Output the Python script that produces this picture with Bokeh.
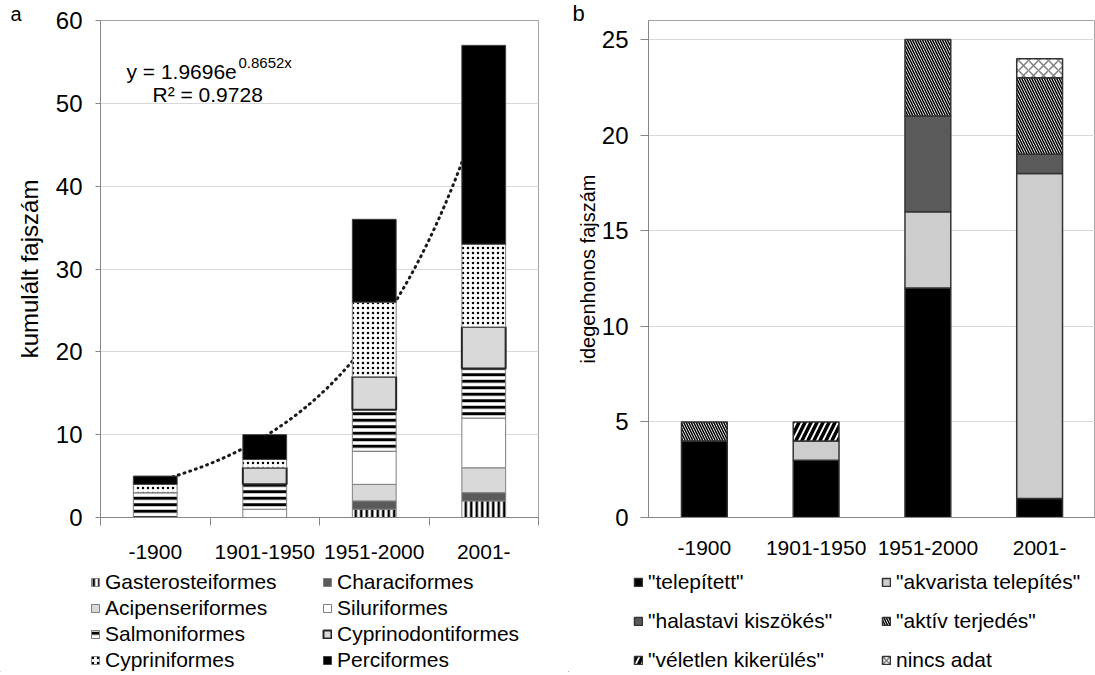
import numpy as np
from bokeh.plotting import figure
from bokeh.models import Range1d, FixedTicker, Legend, LegendItem, Label, ColumnDataSource
from bokeh.layouts import row, column
from bokeh.embed import file_html
from bokeh.resources import INLINE

FONT = "Liberation Sans"

periods = ["-1900", "1901-1950", "1951-2000", "2001-"]

# panel a: cumulative species number by order (stack order bottom -> top)
a_names = ["Gasterosteiformes", "Characiformes", "Acipenseriformes", "Siluriformes",
           "Salmoniformes", "Cyprinodontiformes", "Cypriniformes", "Perciformes"]
gasterosteiformes = [0, 0, 1, 2]
characiformes = [0, 0, 1, 1]
acipenseriformes = [0, 0, 2, 3]
siluriformes = [0, 1, 4, 6]
salmoniformes = [3, 3, 5, 6]
cyprinodontiformes = [0, 2, 4, 5]
cypriniformes = [1, 1, 9, 10]
perciformes = [1, 3, 10, 24]

# exponential trendline as drawn (coefficients)
trend_a = 1.9
trend_b = 0.82
eq_text = "y = 1.9696e"
eq_sup = "0.8652x"
r2_text = "R\u00b2 = 0.9728"

# panel b: alien species by introduction pathway
b_names = ['"telepített"', '"akvarista telepítés"', '"halastavi kiszökés"',
           '"aktív terjedés"', '"véletlen kikerülés"', 'nincs adat']
telepitett = [4, 3, 12, 1]
akvarista = [0, 1, 4, 17]
halastavi = [0, 0, 5, 1]
aktiv = [1, 0, 4, 4]
veletlen = [0, 1, 0, 0]
nincs_adat = [0, 0, 0, 1]

xs = np.arange(1, len(periods) + 1)

a_styles = [
    dict(fill_color="white", hatch_pattern="|", hatch_color="black", hatch_scale=5.5, hatch_weight=2.5, line_color="#7f7f7f", line_width=1),
    dict(fill_color="#5a5a5a", line_color="#7f7f7f", line_width=1),
    dict(fill_color="#d9d9d9", line_color="#7f7f7f", line_width=1),
    dict(fill_color="white", line_color="#7f7f7f", line_width=1),
    dict(fill_color="white", hatch_pattern="-", hatch_color="black", hatch_scale=6.5, hatch_weight=3, line_color="#7f7f7f", line_width=1),
    dict(fill_color="#d9d9d9", line_color="#262626", line_width=2),
    dict(fill_color="white", hatch_pattern=".", hatch_color="black", hatch_scale=5, hatch_weight=2.5, line_color="#7f7f7f", line_width=1),
    dict(fill_color="black", line_color="#404040", line_width=1),
]
b_styles = [
    dict(fill_color="black", line_color="#333333", line_width=1.5),
    dict(fill_color="#cdcdcd", line_color="#333333", line_width=1.5),
    dict(fill_color="#5a5a5a", line_color="#333333", line_width=1.5),
    dict(fill_color="white", hatch_pattern="\\", hatch_color="black", hatch_scale=5, hatch_weight=1.5, line_color="#333333", line_width=1.5),
    dict(fill_color="white", hatch_pattern="/", hatch_color="black", hatch_scale=12, hatch_weight=3.5, line_color="#333333", line_width=1.5),
    dict(fill_color="white", hatch_pattern="x", hatch_color="#7f7f7f", hatch_scale=10, hatch_weight=1.5, line_color="#333333", line_width=1.5),
]

H_MAIN = 570
H_LEG = 102


def make_fig(width, height, ymax, yticks, bl, br, bt, bb, tag, tag_offset, tag_size, tag_standoff):
    p = figure(width=width, height=height, x_range=Range1d(0.5, 4.5), y_range=Range1d(0, ymax),
               output_backend="svg", toolbar_location=None, tools="",
               min_border_left=bl, min_border_right=br, min_border_top=bt, min_border_bottom=bb)
    p.title.text = tag
    p.title.align = "left"
    p.title.offset = tag_offset
    p.title.text_font = FONT
    p.title.text_font_size = tag_size
    p.title.text_font_style = "normal"
    p.title.text_color = "black"
    p.title.standoff = tag_standoff
    p.xgrid.visible = False
    p.ygrid.grid_line_color = "#d9d9d9"
    p.ygrid.grid_line_width = 1
    p.outline_line_color = "#a6a6a6"
    p.background_fill_color = "white"
    p.border_fill_color = "white"
    p.yaxis.ticker = FixedTicker(ticks=yticks, minor_ticks=[])
    p.xaxis.ticker = FixedTicker(ticks=list(xs), minor_ticks=[x - 0.5 for x in xs] + [xs[-1] + 0.5])
    p.xaxis.major_label_overrides = {int(x): lab for x, lab in zip(xs, periods)}
    for ax in (p.xaxis, p.yaxis):
        ax.axis_line_color = "#868686"
        ax.major_tick_line_color = "#868686"
        ax.major_label_text_font = FONT
        ax.major_label_text_color = "black"
        ax.axis_label_text_font = FONT
        ax.axis_label_text_font_style = "normal"
        ax.axis_label_text_color = "black"
    p.xaxis.major_tick_out = 0
    p.xaxis.major_tick_in = 0
    p.yaxis.minor_tick_line_color = None
    p.yaxis.major_tick_in = 0
    return p


def stacked(p, series, styles, width):
    rends = []
    bottom = np.zeros(len(xs))
    for vals, st in zip(series, styles):
        vals = np.asarray(vals, dtype=float)
        top = bottom + vals
        keep = vals > 0
        src = ColumnDataSource(dict(x=xs[keep], bottom=bottom[keep], top=top[keep]))
        r = p.vbar(x="x", width=width, bottom="bottom", top="top", source=src, **st)
        rends.append(r)
        bottom = top
    return rends


def legend_fig(width, names, styles, columns, col_x, spacing):
    f = figure(width=width, height=H_LEG, x_range=Range1d(0, width), y_range=Range1d(0, H_LEG),
               output_backend="svg", toolbar_location=None, tools="",
               min_border=0, min_border_left=0, min_border_right=0, min_border_top=0, min_border_bottom=0,
               x_axis_type=None, y_axis_type=None)
    f.outline_line_color = None
    f.background_fill_color = "white"
    f.border_fill_color = "white"
    proxies = []
    for st in styles:
        # one off-screen proxy bar per series, used only for its legend swatch
        src = ColumnDataSource(dict(x=[-1000.0], bottom=[-1000.0], top=[-999.0]))
        proxies.append(f.vbar(x="x", width=1, bottom="bottom", top="top", source=src, **st))
    for idxs, cx in zip(columns, col_x):
        lg = Legend(items=[LegendItem(label=names[i], renderers=[proxies[i]]) for i in idxs],
                    location=(cx, 0), orientation="vertical", padding=0, margin=0,
                    spacing=spacing, border_line_color=None, background_fill_alpha=0,
                    glyph_width=10, glyph_height=10, label_standoff=5,
                    label_text_font=FONT, label_text_font_size="21px", label_text_color="black")
        f.add_layout(lg)
    return f


# ---------------- panel a ----------------
pa = make_fig(568, H_MAIN, 60, list(range(0, 61, 10)), 100, 30, 20, 53, "a", -90, "20px", -9)
pa.yaxis.axis_label = "kumulált fajszám"
pa.yaxis.axis_label_text_font_size = "24px"
pa.yaxis.axis_label_standoff = 10
pa.yaxis.major_label_text_font_size = "24px"
pa.yaxis.major_tick_out = 5
pa.yaxis.major_label_standoff = 13
pa.xaxis.major_label_text_font_size = "21px"
pa.xaxis.minor_tick_out = 8
pa.xaxis.minor_tick_in = 0
pa.xaxis.minor_tick_line_color = "#868686"
pa.xaxis.major_label_standoff = 19

xt = np.linspace(xs[0], xs[-1], 200)
pa.line(xt, trend_a * np.exp(trend_b * xt), line_color="#1a1a1a", line_width=3,
        line_dash="1 5", line_cap="round")

a_series = [gasterosteiformes, characiformes, acipenseriformes, siluriformes,
            salmoniformes, cyprinodontiformes, cypriniformes, perciformes]
stacked(pa, a_series, a_styles, 0.4)

pa.add_layout(Label(x=0.737, y=53.9, text=eq_text, text_font=FONT, text_font_size="21px",
                    text_baseline="alphabetic", text_color="black"))
pa.add_layout(Label(x=1.76, y=54.9, text=eq_sup, text_font=FONT, text_font_size="15px",
                    text_baseline="alphabetic", text_color="black"))
pa.add_layout(Label(x=0.975, y=51.1, text=r2_text, text_font=FONT, text_font_size="21px",
                    text_baseline="alphabetic", text_color="black"))

# ---------------- panel b ----------------
pb = make_fig(527, H_MAIN, 26, list(range(0, 26, 5)), 80, 0, 19, 51, "b", -76, "22px", -11)
pb.yaxis.axis_label = "idegenhonos fajszám"
pb.yaxis.axis_label_text_font_size = "20px"
pb.yaxis.axis_label_standoff = 0
pb.yaxis.major_label_text_font_size = "24px"
pb.yaxis.major_tick_out = 8
pb.yaxis.major_label_standoff = 12
pb.xaxis.major_label_text_font_size = "21px"
pb.xaxis.minor_tick_line_color = None
pb.xaxis.major_label_standoff = 19

b_series = [telepitett, akvarista, halastavi, aktiv, veletlen, nincs_adat]
stacked(pb, b_series, b_styles, 0.41)

la = legend_fig(568, a_names, a_styles, [[0, 2, 4, 6], [1, 3, 5, 7]], [90, 322], 2)
lb = legend_fig(527, b_names, b_styles, [[0, 2, 4], [1, 3, 5]], [65, 313], 15)

layout = column(row(pa, pb), row(la, lb))
open("out.html", "w").write(file_html(layout, INLINE))
